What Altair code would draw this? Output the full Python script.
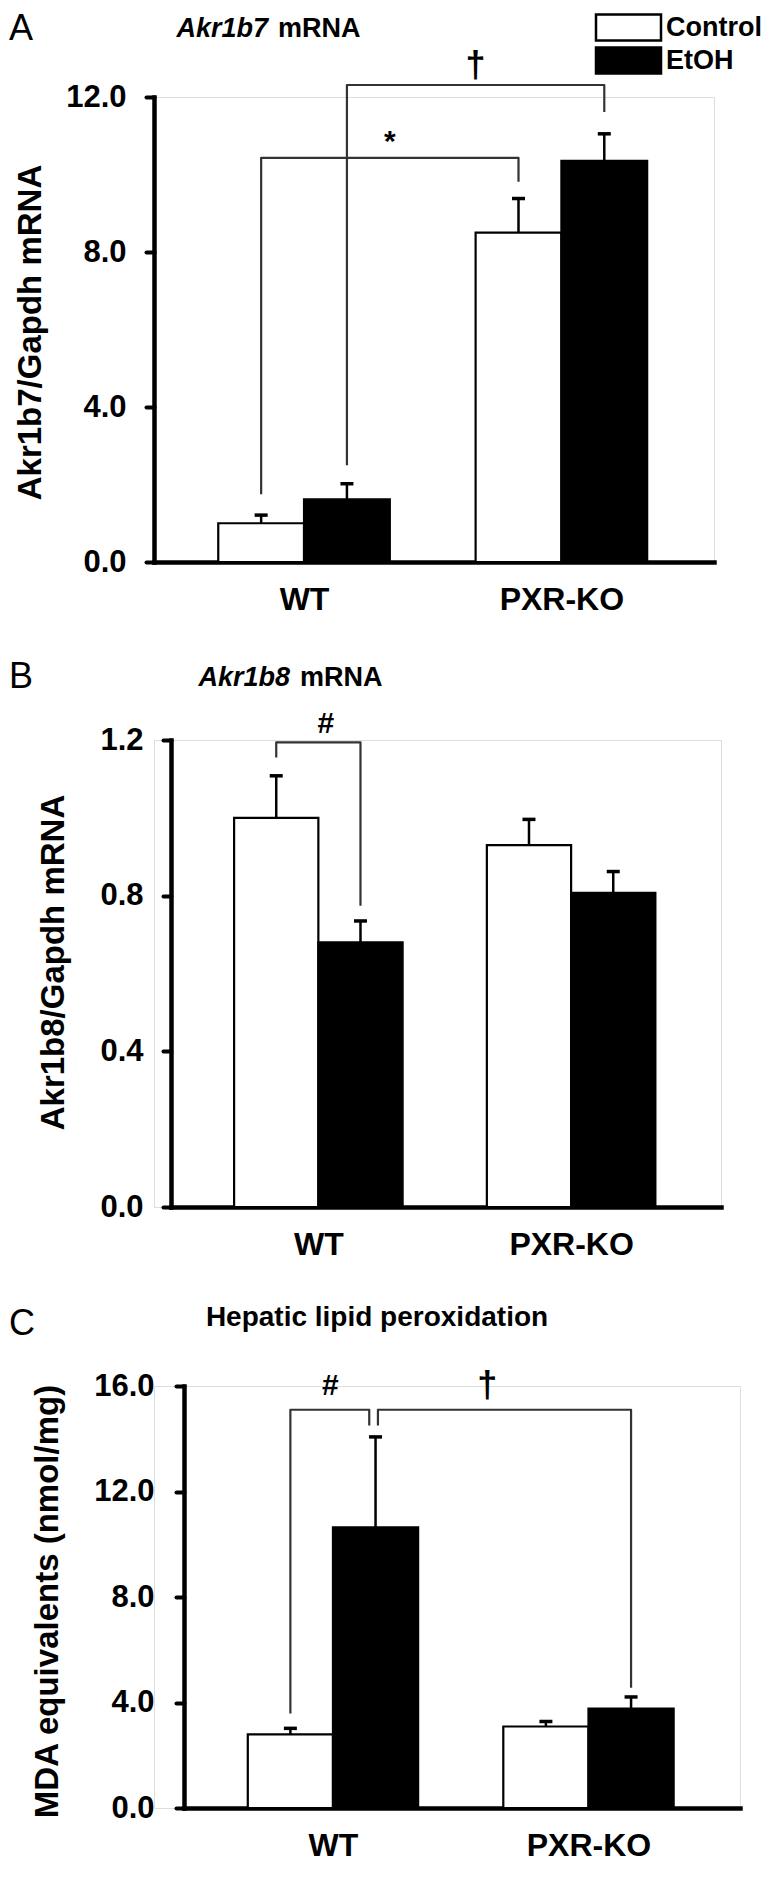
import altair as alt
import pandas as pd

FONT = "Liberation Sans"

groups = ["WT", "PXR-KO"]
series = ["Control", "EtOH"]

# bar values, order: WT-Control, WT-EtOH, PXR-KO-Control, PXR-KO-EtOH
a_mean = [1.00, 1.62, 8.50, 10.35]
a_err = [0.21, 0.40, 0.88, 0.70]
b_mean = [1.00, 0.68, 0.93, 0.807]
b_err = [0.108, 0.055, 0.066, 0.055]
c_mean = [2.79, 10.64, 3.09, 3.77]
c_err = [0.23, 3.43, 0.19, 0.44]

a_ticks = [0.0, 4.0, 8.0, 12.0]
b_ticks = [0.0, 0.4, 0.8, 1.2]
c_ticks = [0.0, 4.0, 8.0, 12.0, 16.0]

# significance brackets (x in group units, bar centres at +-1/6 around group index)
a_br_id = ["s", "s", "s", "s", "d", "d", "d", "d"]
a_br_x = [-1/6, -1/6, 5/6, 5/6, 1/6, 1/6, 7/6, 7/6]
a_br_y = [1.75, 10.43, 10.43, 9.81, 2.5, 12.31, 12.31, 11.61]
a_sig = ["*", "†"]
a_sig_x = [1/3, 2/3]
a_sig_y = [10.85, 12.8]

b_br_id = ["h", "h", "h", "h"]
b_br_x = [-1/6, -1/6, 1/6, 1/6]
b_br_y = [1.155, 1.194, 1.194, 0.774]
b_sig = ["#"]
b_sig_x = [0.03]
b_sig_y = [1.24]

c_br_id = ["h", "h", "h", "h", "d", "d", "d", "d"]
c_br_x = [-1/6, -1/6, 0.142, 0.142, 0.176, 0.176, 7/6, 7/6]
c_br_y = [3.58, 15.1, 15.1, 14.5, 14.5, 15.1, 15.1, 4.56]
c_sig = ["#", "†"]
c_sig_x = [-0.01, 0.604]
c_sig_y = [16.0, 16.0]

BW = 1 / 3
X_DOMAIN = [-0.583, 1.593]


def bars_df(mean, err):
    rows = []
    for k, (m, e) in enumerate(zip(mean, err)):
        gi, si = divmod(k, 2)
        x0 = gi + (si - 1) * BW
        rows.append(dict(group=groups[gi], series=series[si], mean=m, top=m + e, base=0.0,
                         x0=x0, x1=x0 + BW, xc=x0 + BW / 2))
    return pd.DataFrame(rows)


def text_layer(txt, x, y, size, weight="bold", style="normal", align="left"):
    return alt.Chart(pd.DataFrame({"t": [txt]})).mark_text(
        font=FONT, fontSize=size, fontWeight=weight, fontStyle=style,
        align=align, baseline="middle", color="black"
    ).encode(x=alt.value(x), y=alt.value(y), text="t:N")


def make_panel(p):
    bdf = bars_df(p["mean"], p["err"])
    xscale = alt.Scale(domain=X_DOMAIN, range=p["xrange"], nice=False, zero=False)
    yscale = alt.Scale(domain=[0, p["ticks"][-1]], nice=False, zero=True)
    xaxis = alt.Axis(values=[0, 1], labelExpr=f"{groups!r}[datum.value]", title=None,
                     grid=False, ticks=False, domain=True, domainColor="black",
                     domainWidth=4.5, domainCap="square", labelFont=FONT,
                     labelFontSize=32, labelFontWeight="bold", labelColor="black",
                     labelPadding=22, labelFlush=False, labelOverlap=False)
    yaxis = alt.Axis(values=p["ticks"], format=".1f", title=p["ytitle"], grid=False,
                     domainColor="black", domainWidth=4.5, domainCap="square",
                     tickColor="black", tickWidth=4, tickSize=8, tickCap="round",
                     labelFont=FONT, labelFontSize=31, labelFontWeight="bold",
                     labelColor="black", labelPadding=p["lpad"], labelFlush=False,
                     titleFont=FONT, titleFontSize=33, titleFontWeight="bold",
                     titleColor="black", titleAngle=270, titleAlign="center",
                     titleBaseline="alphabetic", titleX=p["tx"], titleY=p["ty"],
                     offset=p["yoff"])

    def X(f):
        return alt.X(f, type="quantitative", scale=xscale, axis=xaxis)

    def Y(f):
        return alt.Y(f, type="quantitative", scale=yscale, axis=yaxis)

    if p["legend"]:
        legend = alt.Legend(orient="none", legendX=p["legendX"], legendY=p["legendY"],
                            title=None, symbolType="M-2.5,-1H2.5V1H-2.5Z", symbolSize=676,
                            symbolStrokeColor="black", symbolStrokeWidth=2.5,
                            labelFont=FONT, labelFontSize=27, labelFontWeight="bold",
                            labelColor="black", labelOffset=23, rowPadding=-8, padding=0)
    else:
        legend = None

    bars = alt.Chart(bdf).mark_bar(stroke="black", strokeWidth=2.2).encode(
        x=X("x0"), x2="x1", y=Y("mean"), y2="base",
        fill=alt.Fill("series:N", scale=alt.Scale(domain=series, range=["white", "black"]),
                      legend=legend),
    )
    err_rule = alt.Chart(bdf).mark_rule(color="black", strokeWidth=2.5).encode(
        x=X("xc"), y=Y("mean"), y2="top")
    err_cap = alt.Chart(bdf).mark_tick(orient="horizontal", size=13, thickness=3.5,
                                       color="black", opacity=1).encode(
        x=X("xc"), y=Y("top"))

    brdf = pd.DataFrame({"bid": p["br_id"], "k": list(range(len(p["br_x"]))),
                         "bx": p["br_x"], "by": p["br_y"]})
    brackets = alt.Chart(brdf).mark_line(color="#333333", strokeWidth=2.2,
                                         strokeJoin="round").encode(
        x=X("bx"), y=Y("by"), detail="bid:N", order="k:Q")

    sdf = pd.DataFrame({"s": p["sig"], "sx": p["sig_x"], "sy": p["sig_y"]})
    sdf["fs"] = [36 if s == "†" else 30 for s in p["sig"]]
    sigs = alt.Chart(sdf).mark_text(font=FONT, fontWeight="bold",
                                    color="black", baseline="middle").encode(
        x=X("sx"), y=Y("sy"), text="s:N",
        size=alt.Size("fs:Q", scale=None, legend=None))

    layers = [bars, err_rule, err_cap, brackets, sigs,
              text_layer(p["letter"], -145, p["letter_y"], 36, weight="normal")]
    if p["title_it"]:
        layers.append(text_layer(p["title_it"], p["title_x"][0], p["title_y"], 27,
                                 style="italic", align="right"))
        layers.append(text_layer(p["title_rest"], p["title_x"][1], p["title_y"], 27))
    else:
        layers.append(text_layer(p["title_rest"], p["title_x"][0], p["title_y"], 28,
                                 align="center"))
    return alt.layer(*layers).properties(width=p["width"], height=p["height"])


pA = make_panel(dict(
    mean=a_mean, err=a_err, ticks=a_ticks, ytitle="Akr1b7/Gapdh mRNA",
    xrange=[0, 560], width=560, height=465, yoff=0, lpad=20, tx=-114, ty=235,
    legend=True, legendX=460, legendY=-84,
    br_id=a_br_id, br_x=a_br_x, br_y=a_br_y, sig=a_sig, sig_x=a_sig_x, sig_y=a_sig_y,
    letter="A", letter_y=-68, title_it="Akr1b7", title_rest="mRNA",
    title_x=[114, 124], title_y=-68))

pB = make_panel(dict(
    mean=b_mean, err=b_err, ticks=b_ticks, ytitle="Akr1b8/Gapdh mRNA",
    xrange=[17, 567], width=567, height=467, yoff=-17, lpad=20, tx=-108, ty=222,
    legend=False,
    br_id=b_br_id, br_x=b_br_x, br_y=b_br_y, sig=b_sig, sig_x=b_sig_x, sig_y=b_sig_y,
    letter="B", letter_y=-63, title_it="Akr1b8", title_rest="mRNA",
    title_x=[136, 146], title_y=-62))

pC = make_panel(dict(
    mean=c_mean, err=c_err, ticks=c_ticks, ytitle="MDA equivalents (nmol/mg)",
    xrange=[30, 586], width=586, height=422, yoff=-30, lpad=22, tx=-127, ty=215,
    legend=False,
    br_id=c_br_id, br_x=c_br_x, br_y=c_br_y, sig=c_sig, sig_x=c_sig_x, sig_y=c_sig_y,
    letter="C", letter_y=-62, title_it=None, title_rest="Hepatic lipid peroxidation",
    title_x=[223], title_y=-68))

chart = alt.vconcat(pA, pB, pC, spacing=42).resolve_scale(
    x="independent", y="independent", fill="independent"
).properties(
    padding={"left": 0, "right": 0, "top": 2, "bottom": 0}
).configure_view(stroke=None).configure(font=FONT)

chart.save("out.html", embed_options={"renderer": "svg", "actions": False})
